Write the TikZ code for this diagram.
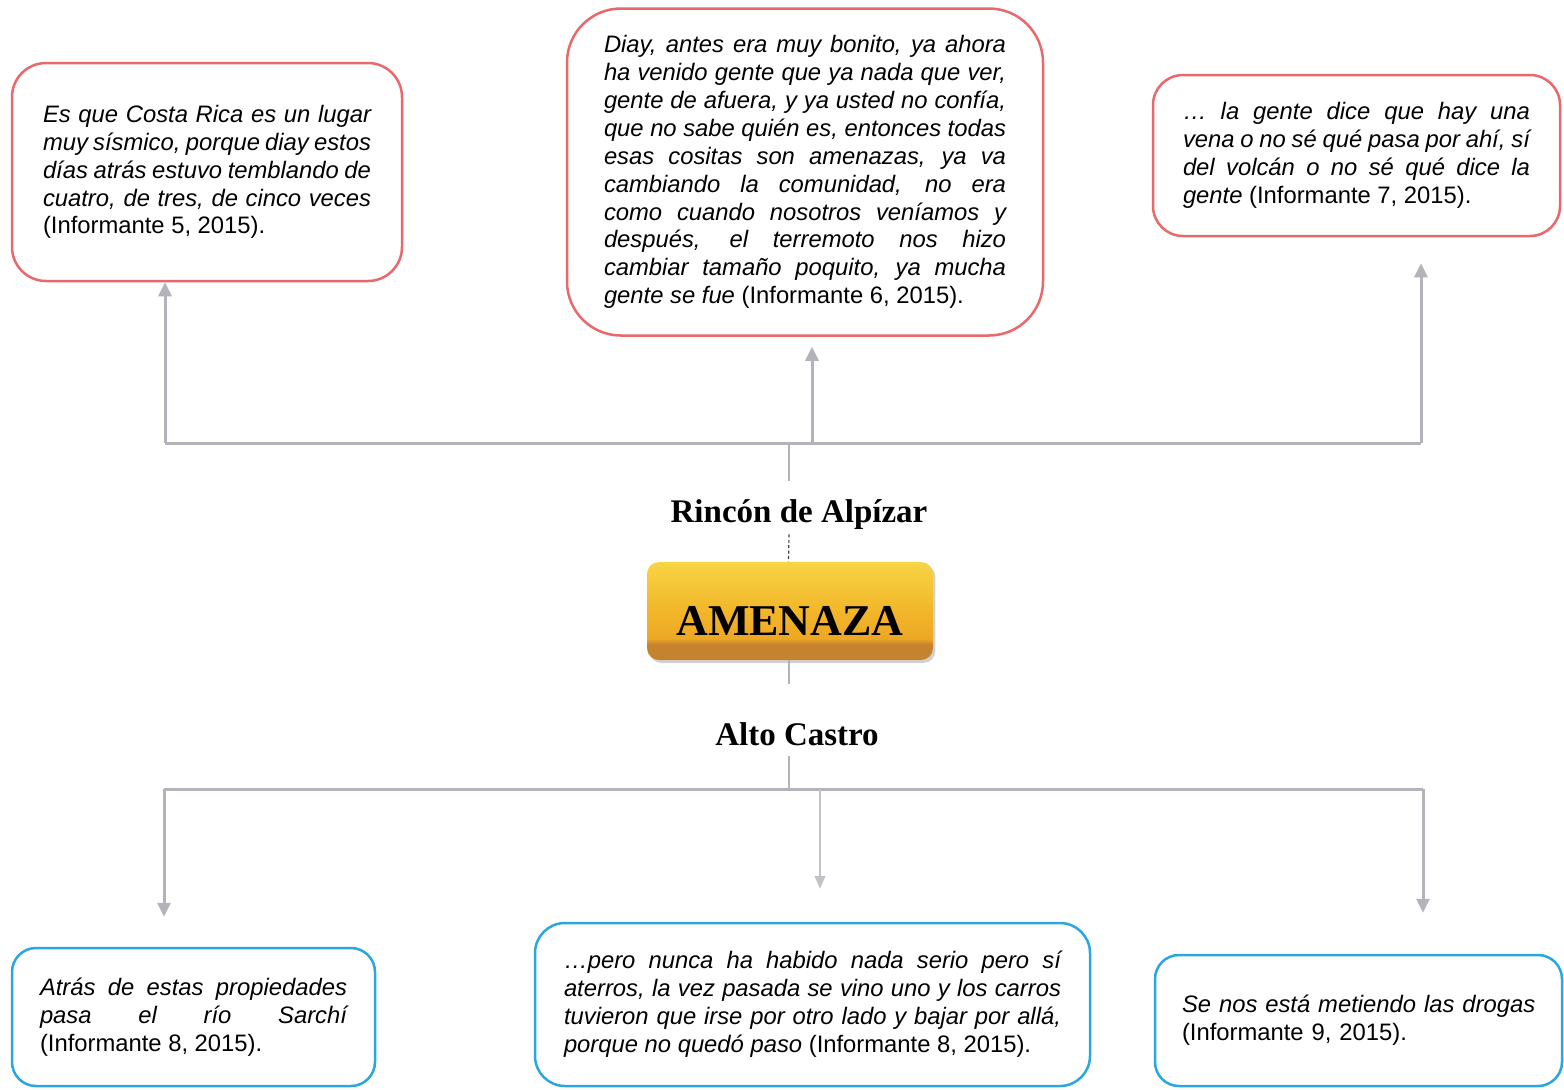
\documentclass[tikz,border=0pt]{standalone}
\usepackage{fontspec}
\setmainfont{Liberation Sans}
\newfontfamily\labelserif{Liberation Serif}
\usetikzlibrary{arrows.meta,shadows,calc}
\definecolor{redb}{HTML}{E8686C}
\definecolor{blueb}{HTML}{2BA6DF}
\definecolor{conncol}{HTML}{B3B3BB}
\definecolor{amtop}{HTML}{F7D545}
\definecolor{ammid}{HTML}{F2B62A}
\definecolor{amlow}{HTML}{EDA824}
\definecolor{ambrown}{HTML}{C6832F}
\pgfdeclareverticalshading{amenshade}{100bp}{color(0bp)=(ambrown); color(33bp)=(ambrown); color(36bp)=(amlow); color(50bp)=(ammid); color(75bp)=(amtop); color(100bp)=(amtop)}
\begin{document}
\begin{tikzpicture}[x=0.5pt,y=-0.5pt,
  quote/.style={draw, line width=1.25pt, align=justify, inner sep=0pt,
    font=\fontsize{11.9}{13.95}\selectfont},
  redq/.style={quote, draw=redb},
  blueq/.style={quote, draw=blueb},
  busline/.style={draw=conncol, line width=1.5pt},
  stemline/.style={draw=conncol, line width=1.1pt},
  uparrow/.style={draw=conncol, line width=1.5pt, -{Triangle[width=6.5pt,length=7pt]}},
  thinarrow/.style={draw=conncol!80, line width=0.7pt, -{Triangle[width=5.5pt,length=6.5pt]}},
  place/.style={font=\labelserif\bfseries\fontsize{16.5}{20}\selectfont, inner sep=2pt},
]
\useasboundingbox (0,0) rectangle (1564,1089);

% top quotes
\node[redq, text width=164pt, minimum width=195pt, minimum height=109pt, rounded corners=17pt] (q1) at (207,172)
 {{\itshape Es que Costa Rica es un lugar\linebreak muy sísmico, porque diay estos\linebreak días atrás estuvo temblando de\linebreak cuatro, de tres, de cinco veces}\linebreak (Informante 5, 2015).};

\node[redq, text width=201pt, minimum width=238pt, minimum height=163.5pt, rounded corners=27pt] (q2) at (805,172)
 {{\itshape Diay, antes era muy bonito, ya ahora\linebreak ha venido gente que ya nada que ver,\linebreak gente de afuera, y ya usted no confía,\linebreak que no sabe quién es, entonces todas\linebreak esas cositas son amenazas, ya va\linebreak cambiando la comunidad, no era\linebreak como cuando nosotros veníamos y\linebreak después, el terremoto nos hizo\linebreak cambiar tamaño poquito, ya mucha\linebreak gente se fue} (Informante 6, 2015).};

\node[redq, text width=173.5pt, minimum width=203.5pt, minimum height=80.5pt, rounded corners=15pt] (q3) at (1356.5,155.5)
 {{\itshape\ldots{} la gente dice que hay una\linebreak vena o no sé qué pasa por ahí, sí\linebreak del volcán o no sé qué dice la\linebreak gente} (Informante 7, 2015).};

% bottom quotes
\node[blueq, text width=153.5pt, minimum width=181.5pt, minimum height=69pt, rounded corners=12pt] (q4) at (193.5,1017)
 {{\itshape Atrás de estas propiedades\linebreak pasa el río Sarchí}\linebreak (Informante 8, 2015).};

\node[blueq, text width=248.5pt, minimum width=277.5pt, minimum height=81.5pt, rounded corners=15pt] (q5) at (812.5,1004.5)
 {{\itshape \ldots pero nunca ha habido nada serio pero sí\linebreak aterros, la vez pasada se vino uno y los carros\linebreak tuvieron que irse por otro lado y bajar por allá,\linebreak porque no quedó paso} (Informante 8, 2015).};

\node[blueq, align=left, text width=176.5pt, minimum width=203.5pt, minimum height=65.5pt, rounded corners=12pt] (q6) at (1358.5,1020.5)
 {\mbox{\itshape Se nos está metiendo las drogas}\\(Informante 9, 2015).};

% centre
\node[place] (rin) at (799,515) {Rincón de Alpízar};
\node[shading=amenshade, rounded corners=6pt, minimum width=143pt, minimum height=49pt,
      drop shadow={shadow xshift=1.2pt, shadow yshift=-1.5pt, opacity=0.3, fill=black!60},
      text height=24.5pt, text depth=0pt,
      font=\labelserif\bfseries\fontsize{22}{26}\selectfont] (amen) at (790,611) {AMENAZA};
\node[place] (alto) at (797,734) {Alto Castro};

% top bus
\coordinate (busTL) at (165,443);
\coordinate (busTR) at (1421,443);
\coordinate (busTM) at (812,443);
\coordinate (busTC) at (789,443);
\draw[busline] (busTL) -- (busTR);
\draw[uparrow] (busTL) -- (busTL |- q1.south);
\draw[uparrow, shorten >=5pt] (busTM) -- (busTM |- q2.south);
\draw[uparrow, shorten >=13pt] (busTR) -- (busTR |- q3.south);
\draw[stemline, shorten >=7.5pt] (busTC) -- (busTC |- rin.north);
\draw[black!75, line width=0.6pt, dash pattern=on 1.5pt off 1.2pt] (rin.south -| amen.north) ++(-1,0) -- ($(amen.north)+(-1.5,0)$);

% bottom bus
\coordinate (busBL) at (164,789);
\coordinate (busBR) at (1423,789);
\coordinate (busBM) at (820,789);
\coordinate (busBC) at (789,789);
\draw[stemline, shorten >=17pt] (amen.south -| busBC) -- (busBC |- alto.north);
\draw[stemline, shorten <=3pt] (busBC |- alto.south) -- (busBC);
\draw[busline] (busBL) -- (busBR);
\draw[uparrow, shorten >=15pt] (busBL) -- (busBL |- q4.north);
\draw[thinarrow, shorten >=16.5pt] (busBM) -- (busBM |- q5.north);
\draw[uparrow, shorten >=20.5pt] (busBR) -- (busBR |- q6.north);
\end{tikzpicture}
\end{document}
